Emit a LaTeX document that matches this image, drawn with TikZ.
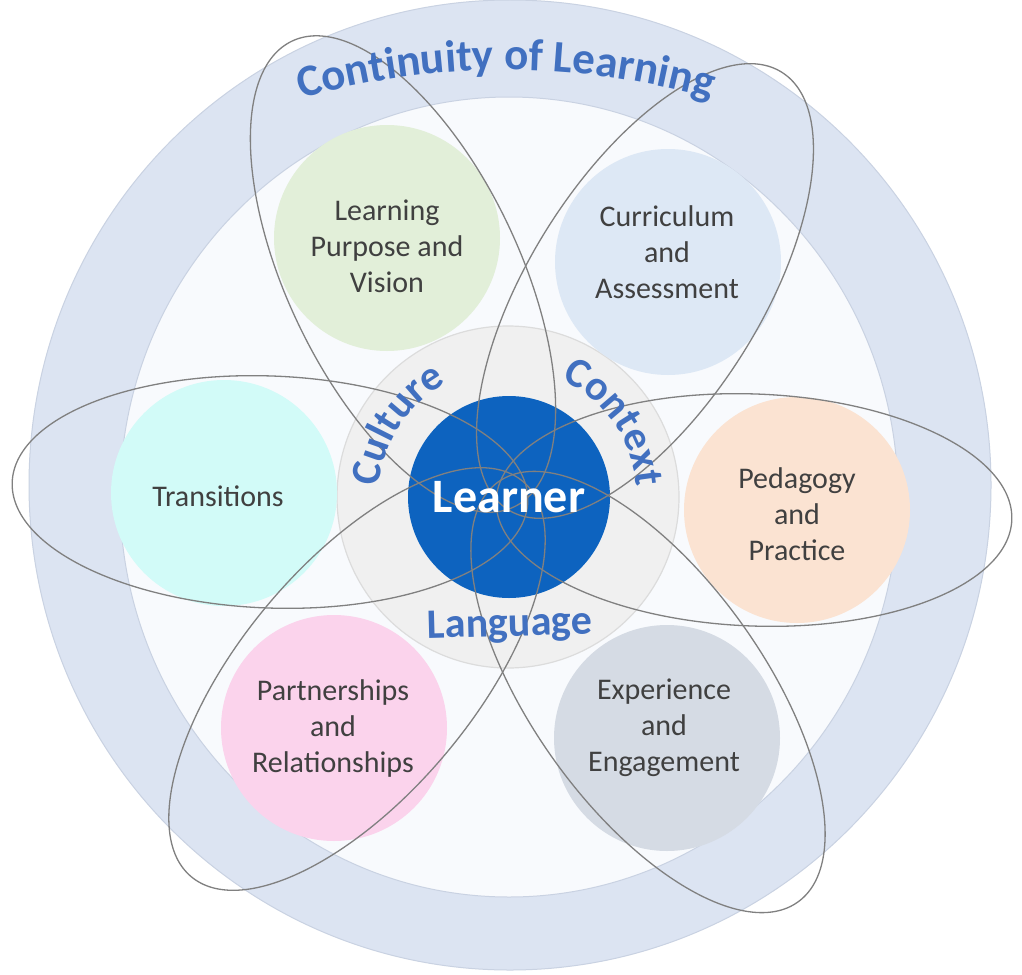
\documentclass[tikz,border=0pt]{standalone}
\usepackage{fontspec}
\setmainfont{Carlito}
\usetikzlibrary{decorations.text}
\definecolor{ringblue}{HTML}{DCE4F2}
\definecolor{ringedge}{HTML}{C9D2E2}
\definecolor{innerdisc}{HTML}{F8FAFD}
\definecolor{greenc}{HTML}{E2EFD9}
\definecolor{currc}{HTML}{DDE8F5}
\definecolor{transc}{HTML}{D2FBF8}
\definecolor{pedac}{HTML}{FBE3D2}
\definecolor{partc}{HTML}{FBD3EC}
\definecolor{expc}{HTML}{D5DBE4}
\definecolor{centgrey}{HTML}{F0F0F0}
\definecolor{centedge}{HTML}{DCDCDC}
\definecolor{learnerc}{HTML}{0D63BF}
\definecolor{wordblue}{HTML}{4170C0}
\definecolor{petalgrey}{HTML}{808080}
\definecolor{txtgrey}{HTML}{404040}
\begin{document}
\begin{tikzpicture}[x=1pt,y=-1pt,
  bubble/.style={circle, minimum size=226pt, inner sep=0pt},
  lbl/.style={align=center, text=txtgrey, font=\fontsize{30}{36}\selectfont, inner sep=0pt},
  petal/.style={draw=petalgrey, line width=1.3pt},
  arcword/.style={font=\fontsize{42}{50}\selectfont\bfseries, text=wordblue}
]
\useasboundingbox (0,0) rectangle (1022,974);
\fill[white] (0,0) rectangle (1022,974);

% outer ring and inner disc
\fill[ringblue, draw=ringedge, line width=1pt] (510,485) ellipse [x radius=481, y radius=485];
\fill[innerdisc, draw=ringedge, line width=1pt] (509,497) ellipse [x radius=389, y radius=400];

% central grey circle
\node[circle, minimum size=342pt, inner sep=0pt, fill=centgrey, draw=centedge, line width=1.2pt] (ctx) at (508,497) {};

% coloured circles
\node[bubble, fill=greenc] (purpose) at (387,238) {};
\node[bubble, fill=currc] (curric) at (668,262) {};
\node[bubble, fill=transc] (trans) at (224,493) {};
\node[bubble, fill=pedac] (pedag) at (797,510) {};
\node[bubble, fill=partc] (partn) at (334,728) {};
\node[bubble, fill=expc] (exper) at (667,738) {};

% learner
\node[circle, minimum size=202pt, inner sep=0pt, fill=learnerc] (learner) at (509,497) {};

% petals
\draw[petal, rotate around={-2.2:(270,492)}] (270,492) ellipse [x radius=258, y radius=116];
\draw[petal, rotate around={-2.2:(754,510)}] (754,510) ellipse [x radius=258, y radius=116];
\draw[petal, rotate around={115.5:(403,274)}] (403,274) ellipse [x radius=258, y radius=116];
\draw[petal, rotate around={58:(645,291)}] (645,291) ellipse [x radius=258, y radius=116];
\draw[petal, rotate around={230:(357,679)}] (357,679) ellipse [x radius=258, y radius=116];
\draw[petal, rotate around={-54.5:(648,692)}] (648,692) ellipse [x radius=258, y radius=116];

% labels
\node[lbl] (purposeT) at (387,246) {Learning\\Purpose and\\Vision};
\node[lbl] (curricT) at (667,252) {Curriculum\\and\\Assessment};
\node[lbl] (transT) at (218,496) {Transitions};
\node[lbl] (pedagT) at (797,514) {Pedagogy\\and\\Practice};
\node[lbl] (partnT) at (333,728) {Partnerships\\and\\Relationships};
\node[lbl] (experT) at (664,728) {Experience\\and\\Engagement};
\node[text=white, font=\fontsize{48}{56}\selectfont\bfseries, inner sep=0pt] (learnerT) at (509,497) {Learner};

% arc words
\coordinate (G) at (508,497);
\path[decorate, decoration={text along path, text align=center,
  text={|\fontsize{45}{54}\selectfont\bfseries\color{wordblue}|Continuity of Learning}}]
  (506,820) ++(-115:750) arc[start angle=-115, end angle=-65, radius=750];
\path[decorate, decoration={text along path, text align=center,
  text={|\fontsize{42}{50}\selectfont\bfseries\color{wordblue}|Culture}}]
  (G) ++(-200:129) arc[start angle=-200, end angle=-94, radius=129];
\path[decorate, decoration={text along path, text align=center,
  text={|\fontsize{42}{50}\selectfont\bfseries\color{wordblue}|Context}}]
  (G) ++(-88:129) arc[start angle=-88, end angle=18, radius=129];
\node[arcword, anchor=base, rotate=1.5] (lang) at (510,636) {Language};
\end{tikzpicture}
\end{document}
